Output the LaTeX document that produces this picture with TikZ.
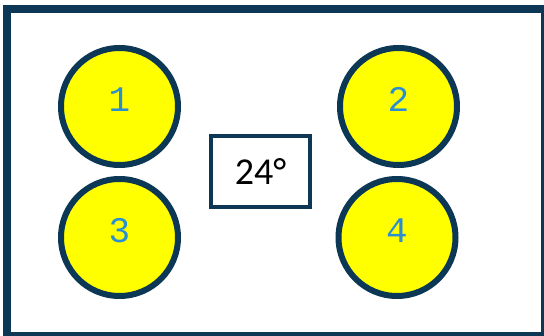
\documentclass[tikz,border=0pt]{standalone}
\usepackage{fontspec}
\setmainfont{Carlito}
\newfontfamily\numfont{Liberation Mono}
\definecolor{navy}{RGB}{12,56,86}
\definecolor{numblue}{RGB}{41,142,210}
\definecolor{burnerfill}{RGB}{255,255,0}
\tikzset{
  burner/.style={circle, draw=navy, line width=6pt, fill=burnerfill, minimum size=117pt, inner sep=0pt,
    label={[text=numblue, font=\numfont\fontsize{36}{40}\selectfont, yshift=7pt, inner sep=0pt]center:#1}},
  tempbox/.style={rectangle, draw=navy, line width=4.5pt, fill=white, minimum width=99pt, minimum height=71pt, inner sep=0pt, font=\fontsize{38}{42}\selectfont},
  frame/.style={draw=navy, line width=8pt}
}
\begin{document}
\begin{tikzpicture}[x=1pt,y=-1pt]
\useasboundingbox (0,0) rectangle (544,336);
\clip (0,0) rectangle (544,336);
\fill[white] (0,0) rectangle (544,336);
\draw[frame] (7,9) rectangle (544.5,336.5);
\node[burner=1] (b1) at (119.5,106.5) {};
\node[burner=2] (b2) at (398.5,106.5) {};
\node[burner=3] (b3) at (119.5,237.5) {};
\node[burner=4] (b4) at (397,237.5) {};
\node[tempbox] (t) at (260.5,171.5) {24°};
\end{tikzpicture}
\end{document}
